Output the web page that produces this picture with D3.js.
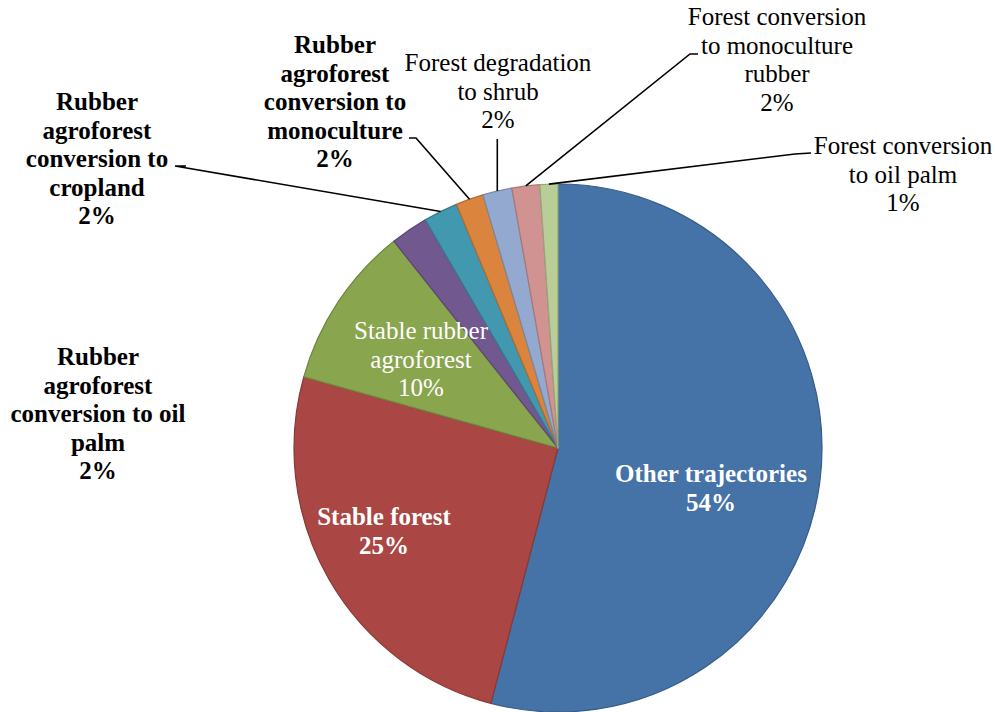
<!DOCTYPE html>
<html><head><meta charset="utf-8">
<script src="https://cdn.jsdelivr.net/npm/d3@7"></script>
<style>body{margin:0;background:#fff}svg{display:block}</style>
</head><body>
<svg id="c" width="995" height="712"></svg>
<script>
// ---- data ----
const categories = [
  "Other trajectories",
  "Stable forest",
  "Stable rubber agroforest",
  "Rubber agroforest conversion to oil palm",
  "Rubber agroforest conversion to cropland",
  "Rubber agroforest conversion to monoculture",
  "Forest degradation to shrub",
  "Forest conversion to monoculture rubber",
  "Forest conversion to oil palm"
];
const values = [54.2, 25.3, 10.0, 2.3, 2.1, 1.7, 1.8, 1.7, 1.1];
const colors = ["#4572A7","#AA4643","#89A54E","#71588F","#4198AF","#DB843D","#93A9CF","#D19392","#B9CD96"];
const labelLines = [
  ["Other trajectories"],
  ["Stable forest"],
  ["Stable rubber","agroforest"],
  ["Rubber","agroforest","conversion to oil","palm"],
  ["Rubber","agroforest","conversion to","cropland"],
  ["Rubber","agroforest","conversion to","monoculture"],
  ["Forest degradation","to shrub"],
  ["Forest conversion","to monoculture","rubber"],
  ["Forest conversion","to oil palm"]
];

// ---- layout ----
const cx = 558, cy = 448, R = 264;
const FS = 25, LH = 28.5;
const labelLayout = [
  {x:711, y:482, bold:true, fill:"#fff"},
  {x:384, y:525, bold:true, fill:"#fff"},
  {x:421, y:339, bold:false, fill:"#fff"},
  {x:98,  y:365, bold:true, fill:"#000"},
  {x:97,  y:110, bold:true, fill:"#000"},
  {x:335, y:53,  bold:true, fill:"#000"},
  {x:498, y:71,  bold:false, fill:"#000"},
  {x:777, y:25,  bold:false, fill:"#000"},
  {x:903, y:154, bold:false, fill:"#000"}
];
const leaders = {
  4: [[186,166],[175,166]],
  5: [[409,138],[416,138]],
  6: null,
  7: [[698,54],[690,54]],
  8: [[811,153],[795,154]]
};

const svg = d3.select("#c");
const total = d3.sum(values);
const pie = d3.pie().sort(null).value(d => d)(values);
const arc = d3.arc().innerRadius(0).outerRadius(R);

const g = svg.append("g").attr("transform", `translate(${cx},${cy})`);
g.selectAll("path.slice").data(pie).enter().append("path")
  .attr("class","slice")
  .attr("d", arc)
  .attr("fill", (d,i) => colors[i])
  .attr("stroke", (d,i) => d3.color(colors[i]).darker(0.6))
  .attr("stroke-width", 1.2)
  .attr("stroke-linejoin","round");

const rimPoint = d => {
  const a = (d.startAngle + d.endAngle) / 2;
  return [cx + R * Math.sin(a), cy - R * Math.cos(a)];
};
pie.forEach((d,i) => {
  if (!(i in leaders)) return;
  const rp = rimPoint(d);
  const pts = leaders[i] === null ? [[rp[0], 139], rp] : [...leaders[i], rp];
  svg.append("path")
    .attr("d", d3.line()(pts))
    .attr("fill","none").attr("stroke","#000").attr("stroke-width",1.6);
});

pie.forEach((d,i) => {
  const L = labelLayout[i];
  const pct = Math.round(values[i] / total * 100) + "%";
  const lines = [...labelLines[i], pct];
  const t = svg.append("text")
    .attr("text-anchor","middle")
    .style("font-family", '"Liberation Serif"')
    .style("font-size", FS + "px")
    .style("font-weight", L.bold ? "bold" : "normal")
    .attr("fill", L.fill);
  lines.forEach((s,k) => {
    t.append("tspan").attr("x", L.x).attr("y", L.y + k * LH).text(s);
  });
});
</script>
</body></html>
